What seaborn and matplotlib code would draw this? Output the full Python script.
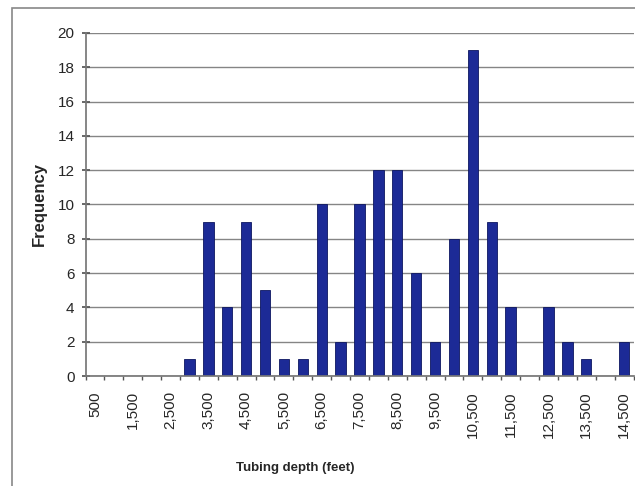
import matplotlib
matplotlib.use("Agg")
import matplotlib.pyplot as plt
import seaborn as sns
import pandas as pd
import numpy as np
from matplotlib.patches import Rectangle

depths = list(range(500, 14501, 500))
frequency = [0, 0, 0, 0, 0, 1, 9, 4, 9, 5, 1, 1, 10, 2, 10, 12, 12, 6, 2, 8, 19, 9, 4, 0, 4, 2, 1, 0, 2]
labels = [f"{d:,}" for d in depths]

df = pd.DataFrame({"depth": labels, "freq": frequency})

sns.set_theme(style="white")
plt.rcParams['font.family'] = ['Liberation Sans', 'DejaVu Sans']

fig = plt.figure(figsize=(6.35, 4.86), dpi=100)
ax = fig.add_axes([85.5/635, 1-376/486, (633.5-85.5)/635, (376-33)/486])

sns.barplot(data=df, x="depth", y="freq", order=labels, color="#1c2a96",
            width=0.55, saturation=1, ax=ax, edgecolor="#0d1660", linewidth=0.6)

ax.set_ylim(0, 20)
ax.set_xlim(-0.5, len(labels)-0.5)
ax.set_yticks(range(0, 21, 2))
ax.yaxis.grid(True, color="#858585", linewidth=1.0)
ax.set_axisbelow(True)

ax.set_xticks(range(0, len(labels), 2))
ax.set_xticklabels(labels[::2], rotation=90, fontsize=11)
ax.set_xticks(np.arange(-0.5, len(labels), 1), minor=True)
ax.tick_params(axis="x", which="major", length=0, pad=11)
ax.tick_params(axis="x", which="minor", length=3, direction="out", color="#555555", bottom=True)
ax.tick_params(axis="y", length=6, direction="inout", color="#555555", left=True, labelsize=11, pad=5)

for s in ["top", "right"]:
    ax.spines[s].set_visible(False)
ax.spines["left"].set_color("#777777")
ax.spines["bottom"].set_color("#777777")

ax.set_ylabel("")
ax.set_xlabel("")
fig.text(39/635, 1-204/486, "Frequency", rotation=90, ha="center", va="center",
         fontsize=12, fontweight="bold")
fig.text(295/635, 1-468/486, "Tubing depth (feet)", ha="center", va="center",
         fontsize=9.5, fontweight="bold")

fig.patches.append(Rectangle((12/635, -0.02), 1.0, 1-8/486+0.02, transform=fig.transFigure,
                             fill=False, edgecolor="#888888", linewidth=1.2))

fig.savefig("out.png", dpi=100)
